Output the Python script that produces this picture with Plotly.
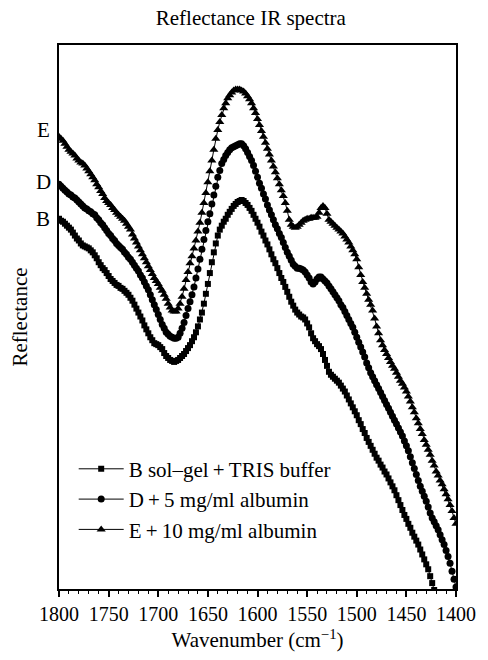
import plotly.graph_objects as go

# Wavenumbers (cm^-1), every 2 cm^-1 from 1800 down to 1400
wavenumber = list(range(1800, 1399, -2))

# Reflectance (arbitrary units)
refl_E = [458, 456, 454, 451, 448, 445, 443, 441, 439, 436,   # 1800-1782
          434, 432, 431, 429, 426, 423, 420, 417, 414, 410,   # 1780-1762
          407, 403, 400, 396, 393, 391, 389, 386, 384, 381,   # 1760-1742
          379, 377, 375, 373, 370, 367, 364, 359, 355, 351,   # 1740-1722
          347, 343, 339, 335, 331, 327, 323, 319, 315, 312,   # 1720-1702
          309, 305, 302, 298, 294, 289, 285, 282, 281, 281,   # 1700-1682
          284, 289, 296, 304, 313, 321, 330, 337, 345, 353,   # 1680-1662
          362, 371, 381, 391, 401, 412, 423, 434, 445, 456,   # 1660-1642
          465, 473, 480, 487, 492, 497, 500, 503, 505, 506,   # 1640-1622
          506, 506, 505, 504, 502, 499, 496, 492, 487, 482,   # 1620-1602
          476, 470, 464, 458, 452, 446, 440, 434, 428, 422,   # 1600-1582
          416, 410, 404, 398, 391, 383, 374, 369, 367, 366,   # 1580-1562
          367, 369, 371, 373, 374, 375, 375, 376, 376, 376,   # 1560-1542
          377, 381, 386, 388, 386, 380, 374, 372, 370, 368,   # 1540-1522
          366, 364, 362, 360, 357, 354, 351, 347, 343, 339,   # 1520-1502
          334, 326, 318, 311, 305, 299, 293, 288, 282, 274,   # 1500-1482
          266, 259, 252, 247, 242, 238, 234, 230, 226, 223,   # 1480-1462
          219, 215, 211, 208, 204, 200, 195, 190, 184, 179,   # 1460-1442
          173, 168, 162, 157, 151, 146, 141, 136, 130, 125,   # 1440-1422
          119, 115, 110, 106, 101, 96, 91, 85, 79, 72,        # 1420-1402
          66]                                                 # 1400

refl_D = [410, 408, 406, 404, 402, 400, 399, 397, 396, 394,   # 1800-1782
          392, 390, 388, 386, 385, 383, 382, 380, 379, 376,   # 1780-1762
          374, 371, 369, 366, 363, 360, 358, 355, 353, 350,   # 1760-1742
          348, 346, 344, 341, 339, 336, 334, 331, 328, 325,   # 1740-1722
          322, 318, 315, 311, 307, 303, 298, 293, 288, 283,   # 1720-1702
          278, 273, 268, 264, 260, 258, 256, 255, 254, 254,   # 1700-1682
          255, 259, 264, 270, 277, 284, 291, 298, 306, 315,   # 1680-1662
          324, 334, 344, 354, 363, 372, 380, 390, 399, 408,   # 1660-1642
          417, 424, 431, 435, 439, 442, 445, 447, 448, 449,   # 1640-1622
          450, 451, 451, 449, 446, 442, 438, 434, 429, 423,   # 1620-1602
          417, 411, 406, 400, 395, 389, 384, 379, 374, 369,   # 1600-1582
          365, 360, 356, 351, 346, 341, 337, 333, 329, 327,   # 1580-1562
          325, 325, 324, 323, 321, 318, 315, 311, 309, 311,   # 1560-1542
          314, 316, 316, 314, 312, 310, 307, 304, 301, 298,   # 1540-1522
          295, 292, 288, 285, 281, 277, 273, 269, 265, 260,   # 1520-1502
          255, 250, 245, 240, 235, 229, 224, 219, 215, 211,   # 1500-1482
          207, 203, 199, 195, 191, 187, 183, 179, 175, 171,   # 1480-1462
          167, 163, 159, 155, 150, 145, 140, 134, 128, 122,   # 1460-1442
          116, 110, 104, 99, 94, 89, 83, 77, 72, 68,          # 1440-1422
          64, 60, 55, 50, 45, 39, 33, 26, 18, 10,             # 1420-1402
          2]                                                  # 1400

refl_B = [375, 373, 372, 370, 368, 366, 364, 361, 358, 355,   # 1800-1782
          353, 350, 348, 347, 346, 345, 343, 341, 338, 335,   # 1780-1762
          331, 328, 325, 323, 320, 317, 314, 312, 310, 308,   # 1760-1742
          307, 305, 304, 302, 300, 298, 295, 292, 288, 284,   # 1740-1722
          280, 276, 272, 267, 263, 259, 255, 252, 249, 248,   # 1720-1702
          247, 245, 243, 239, 236, 234, 232, 231, 230, 231,   # 1700-1682
          232, 234, 236, 238, 241, 244, 247, 251, 255, 260,   # 1680-1662
          266, 273, 280, 289, 299, 309, 320, 331, 341, 350,   # 1660-1642
          358, 364, 368, 372, 375, 379, 382, 385, 388, 390,   # 1640-1622
          392, 393, 394, 393, 391, 389, 386, 383, 379, 375,   # 1620-1602
          371, 367, 362, 358, 353, 349, 344, 339, 334, 330,   # 1600-1582
          325, 320, 315, 311, 306, 301, 296, 291, 287, 283,   # 1580-1562
          280, 278, 276, 275, 273, 269, 265, 259, 254, 251,   # 1560-1542
          248, 246, 243, 238, 232, 226, 220, 217, 215, 213,   # 1540-1522
          211, 209, 206, 203, 200, 196, 192, 188, 184, 180,   # 1520-1502
          176, 171, 167, 162, 158, 153, 149, 145, 141, 137,   # 1500-1482
          133, 130, 126, 123, 119, 116, 112, 108, 104, 100,   # 1480-1462
          95, 90, 85, 80, 75, 71, 66, 62, 57, 53,             # 1460-1442
          49, 45, 40, 35, 30, 25, 20, 13, 6, -1,              # 1440-1422
          -8]                                                 # 1420
wavenumber_B = wavenumber[:len(refl_B)]

series_names = ["B sol\u2013gel\u2009+\u2009TRIS buffer",
                "D\u2009+\u20095 mg/ml albumin",
                "E\u2009+\u200910 mg/ml albumin"]
curve_labels = ["E", "D", "B"]
curve_label_pos = [465, 412, 375]

FONT = "Liberation Serif, Times New Roman, serif"

fig = go.Figure()
fig.add_trace(go.Scatter(
    x=wavenumber_B, y=refl_B, name=series_names[0], mode="lines+markers",
    line=dict(color="black", width=1),
    marker=dict(symbol="square", size=6, color="black")))
fig.add_trace(go.Scatter(
    x=wavenumber, y=refl_D, name=series_names[1], mode="lines+markers",
    line=dict(color="black", width=1),
    marker=dict(symbol="circle", size=7, color="black")))
fig.add_trace(go.Scatter(
    x=wavenumber, y=refl_E, name=series_names[2], mode="lines+markers",
    line=dict(color="black", width=1),
    marker=dict(symbol="triangle-up", size=8, color="black")))

for lab, yv in zip(curve_labels, curve_label_pos):
    fig.add_annotation(text=lab, xref="paper", yref="y", x=-0.04, y=yv,
                       showarrow=False, xanchor="center", yanchor="middle",
                       font=dict(family=FONT, size=21, color="black"))

fig.update_layout(
    width=488, height=660,
    margin=dict(l=59, r=26, t=45, b=64),
    paper_bgcolor="white", plot_bgcolor="white",
    font=dict(family=FONT, size=21, color="black"),
    title=dict(text="Reflectance IR spectra", x=0.514, xanchor="center",
               y=0.973, yanchor="middle", xref="container", yref="container",
               font=dict(family=FONT, size=21, color="black")),
    showlegend=True,
    legend=dict(x=0.037, y=0.258, xanchor="left", yanchor="top",
                bgcolor="rgba(0,0,0,0)", borderwidth=0,
                font=dict(family=FONT, size=21, color="black"),
                itemwidth=45, tracegroupgap=0),
    xaxis=dict(range=[1800, 1400], autorange=False,
               tickvals=[1800, 1750, 1700, 1650, 1600, 1550, 1500, 1450, 1400],
               ticks="outside", ticklen=6, tickwidth=1.5, tickcolor="black",
               minor=dict(dtick=10, ticks="outside", ticklen=3, tickwidth=1, tickcolor="black"),
               showline=True, linecolor="black", linewidth=1.5, mirror=True,
               showgrid=False, zeroline=False,
               tickfont=dict(family=FONT, size=20, color="black"),
               title=dict(text="Wavenumber (cm<sup>\u22121</sup>)", standoff=9,
                          font=dict(family=FONT, size=21, color="black"))),
    yaxis=dict(range=[0, 551], autorange=False,
               showticklabels=False, ticks="",
               showline=True, linecolor="black", linewidth=1.5, mirror=True,
               showgrid=False, zeroline=False,
               title=dict(text="Reflectance", standoff=24,
                          font=dict(family=FONT, size=21, color="black"))),
)

fig.write_html("out.html")
